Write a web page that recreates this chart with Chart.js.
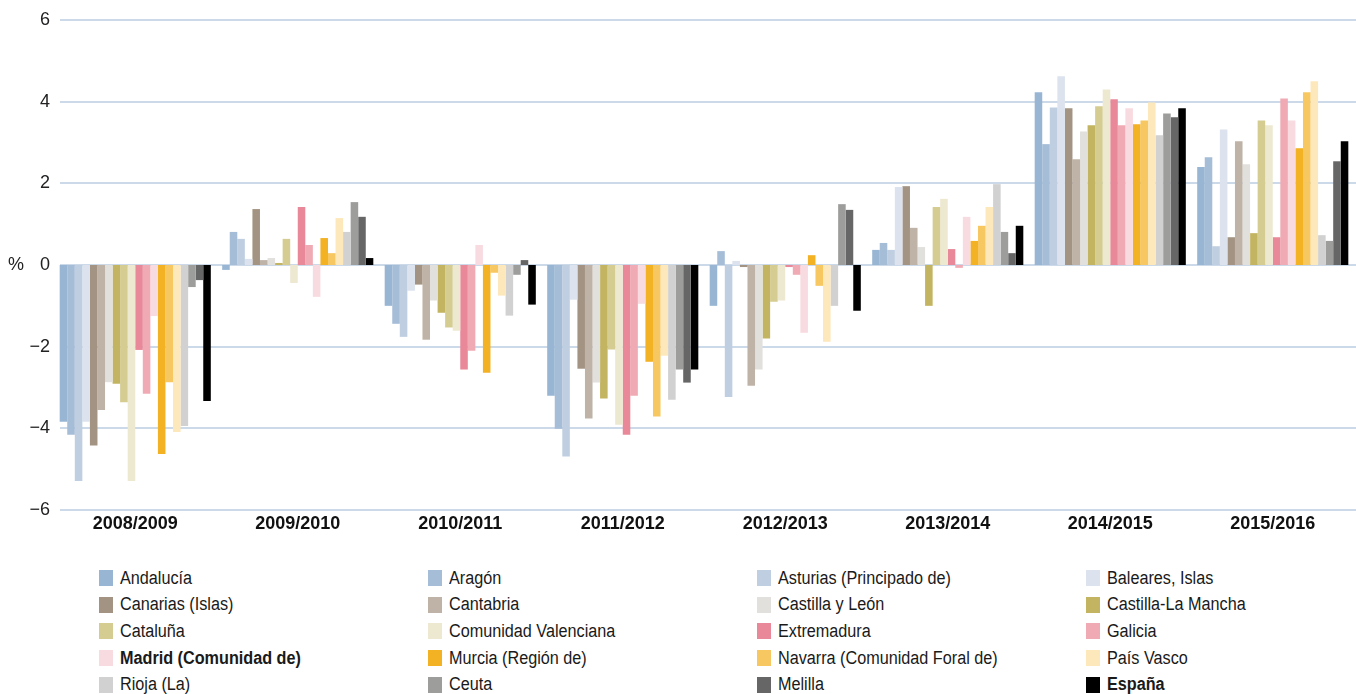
<!DOCTYPE html>
<html>
<head>
<meta charset="utf-8">
<script src="https://cdn.jsdelivr.net/npm/chart.js@4/dist/chart.umd.min.js"></script>
<style>
  html, body { margin: 0; padding: 0; background: #fff; }
  #wrap { position: relative; width: 1356px; height: 694px; overflow: hidden; }
  #chartBox { position: absolute; left: 0; top: 0; width: 1356px; height: 540px; }
  #legend { position: absolute; left: 99px; top: 565px; width: 1257px;
    display: grid; grid-template-columns: 329px 329px 329px 270px; grid-auto-rows: 26.6px;
    font-family: "Liberation Sans", sans-serif; font-size: 18px; color: #1a1a1a; }
  .item { display: flex; align-items: center; white-space: nowrap; }
  .box { width: 14px; height: 16px; margin-right: 7px; flex: none; }
  .txt { display: inline-block; transform: scaleX(0.9); transform-origin: left center; }
  .bold { font-weight: bold; }
</style>
</head>
<body>
<div id="wrap">
  <div id="chartBox"><canvas id="c"></canvas></div>
  <div id="legend"></div>
</div>
<script>
const categories = ['2008/2009', '2009/2010', '2010/2011', '2011/2012', '2012/2013', '2013/2014', '2014/2015', '2015/2016'];
const yTicks = [-6, -4, -2, 0, 2, 4, 6];

const andalucia   = [-3.84, -0.12, -1.00, -3.20, -1.00, 0.37, 4.23, 2.40];
const aragon      = [-4.16, 0.81, -1.44, -4.01, 0.34, 0.54, 2.96, 2.64];
const asturias    = [-5.29, 0.64, -1.76, -4.69, -3.23, 0.37, 3.86, 0.46];
const baleares    = [-3.84, 0.15, -0.63, -0.85, 0.10, 1.91, 4.62, 3.32];
const canarias    = [-4.42, 1.37, -0.48, -2.54, -0.05, 1.93, 3.84, 0.68];
const cantabria   = [-3.55, 0.12, -1.83, -3.76, -2.96, 0.91, 2.59, 3.03];
const castillaLeon = [-2.87, 0.17, -0.87, -2.88, -2.56, 0.44, 3.27, 2.47];
const castillaLaMancha = [-2.91, 0.05, -1.17, -3.27, -1.80, -1.00, 3.42, 0.78];
const cataluna    = [-3.36, 0.64, -1.53, -2.07, -0.90, 1.42, 3.89, 3.54];
const valenciana  = [-5.29, -0.44, -1.61, -3.91, -0.87, 1.62, 4.30, 3.42];
const extremadura = [-2.08, 1.42, -2.56, -4.16, -0.05, 0.39, 4.06, 0.68];
const galicia     = [-3.15, 0.49, -2.10, -3.20, -0.24, -0.07, 3.42, 4.08];
const madrid      = [-1.25, -0.78, 0.49, -0.95, -1.66, 1.18, 3.84, 3.54];
const murcia      = [-4.63, 0.66, -2.64, -2.37, 0.24, 0.59, 3.45, 2.86];
const navarra     = [-2.87, 0.29, -0.19, -3.71, -0.51, 0.96, 3.54, 4.23];
const paisVasco   = [-4.09, 1.15, -0.75, -2.22, -1.88, 1.42, 3.98, 4.50];
const rioja       = [-3.94, 0.81, -1.24, -3.30, -1.00, 1.98, 3.18, 0.73];
const ceuta       = [-0.54, 1.54, -0.24, -2.56, 1.49, 0.81, 3.71, 0.59];
const melilla     = [-0.37, 1.18, 0.12, -2.88, 1.35, 0.29, 3.62, 2.54];
const espana      = [-3.33, 0.17, -0.97, -2.56, -1.12, 0.96, 3.84, 3.03];

const seriesNames = ['Andalucía', 'Aragón', 'Asturias (Principado de)', 'Baleares, Islas',
  'Canarias (Islas)', 'Cantabria', 'Castilla y León', 'Castilla-La Mancha',
  'Cataluña', 'Comunidad Valenciana', 'Extremadura', 'Galicia',
  'Madrid (Comunidad de)', 'Murcia (Región de)', 'Navarra (Comunidad Foral de)', 'País Vasco',
  'Rioja (La)', 'Ceuta', 'Melilla', 'España'];
const seriesValues = [andalucia, aragon, asturias, baleares, canarias, cantabria, castillaLeon, castillaLaMancha,
  cataluna, valenciana, extremadura, galicia, madrid, murcia, navarra, paisVasco, rioja, ceuta, melilla, espana];
const seriesColors = ['#98b6d3', '#a6bdd7', '#bfcfe1', '#dce3ee',
  '#a39382', '#bfb3a7', '#e2e0dc', '#c2b461',
  '#d4cc91', '#ede8d0', '#e88898', '#f0aab4',
  '#f8dbe0', '#f3b124', '#f7c862', '#fde8bc',
  '#d1d1d1', '#9d9d9c', '#666666', '#000000'];
const boldLegend = ['Madrid (Comunidad de)', 'España'];

const datasets = seriesNames.map((n, i) => ({
  label: n,
  data: seriesValues[i],
  backgroundColor: seriesColors[i],
  borderWidth: 0,
  barPercentage: 1.0,
  categoryPercentage: 0.93
}));

// horizontal gridlines starting at x=60 and running to the right edge
const gridLines = {
  id: 'gridLines',
  beforeDatasetsDraw(chart) {
    const ctx = chart.ctx, ys = chart.scales.y;
    ctx.save();
    ctx.strokeStyle = '#cbd9e8';
    ctx.lineWidth = 2;
    ys.ticks.forEach(t => {
      const y = Math.round(ys.getPixelForValue(t.value));
      ctx.beginPath();
      ctx.moveTo(60, y);
      ctx.lineTo(chart.width, y);
      ctx.stroke();
    });
    ctx.restore();
  },
  afterDraw(chart) {
    const ctx = chart.ctx;
    const y = chart.scales.y.getPixelForValue(0);
    ctx.save();
    ctx.font = '18px "Liberation Sans", sans-serif';
    ctx.fillStyle = '#222';
    ctx.textAlign = 'center';
    ctx.textBaseline = 'middle';
    ctx.fillText('%', 16, y);
    ctx.restore();
  }
};

new Chart(document.getElementById('c'), {
  type: 'bar',
  data: { labels: categories, datasets },
  options: {
    responsive: true,
    maintainAspectRatio: false,
    animation: false,
    layout: { padding: { top: 20, right: 2, bottom: 0, left: 0 } },
    plugins: { legend: { display: false }, tooltip: { enabled: false } },
    scales: {
      x: {
        afterFit(scale) { scale.height = 30; },
        grid: { display: false, drawTicks: false },
        border: { display: false },
        ticks: { color: '#111', padding: 3, font: { family: 'Liberation Sans', size: 18, weight: 'bold' }, maxRotation: 0 }
      },
      y: {
        min: -6, max: 6,
        afterBuildTicks(scale) { scale.ticks = yTicks.map(v => ({ value: v })); },
        afterFit(scale) { scale.width = 54; },
        grid: { display: false, drawTicks: false },
        border: { display: false },
        ticks: {
          color: '#222', padding: 4,
          font: { family: 'Liberation Sans', size: 18 },
          callback: v => String(v).replace('-', '\u2212')
        }
      }
    }
  },
  plugins: [gridLines]
});

const legend = document.getElementById('legend');
seriesNames.forEach((n, i) => {
  const d = document.createElement('div');
  d.className = 'item';
  const b = document.createElement('span');
  b.className = 'box';
  b.style.background = seriesColors[i];
  const t = document.createElement('span');
  t.textContent = n;
  t.className = 'txt' + (boldLegend.includes(n) ? ' bold' : '');
  d.appendChild(b); d.appendChild(t);
  legend.appendChild(d);
});
</script>
</body>
</html>
